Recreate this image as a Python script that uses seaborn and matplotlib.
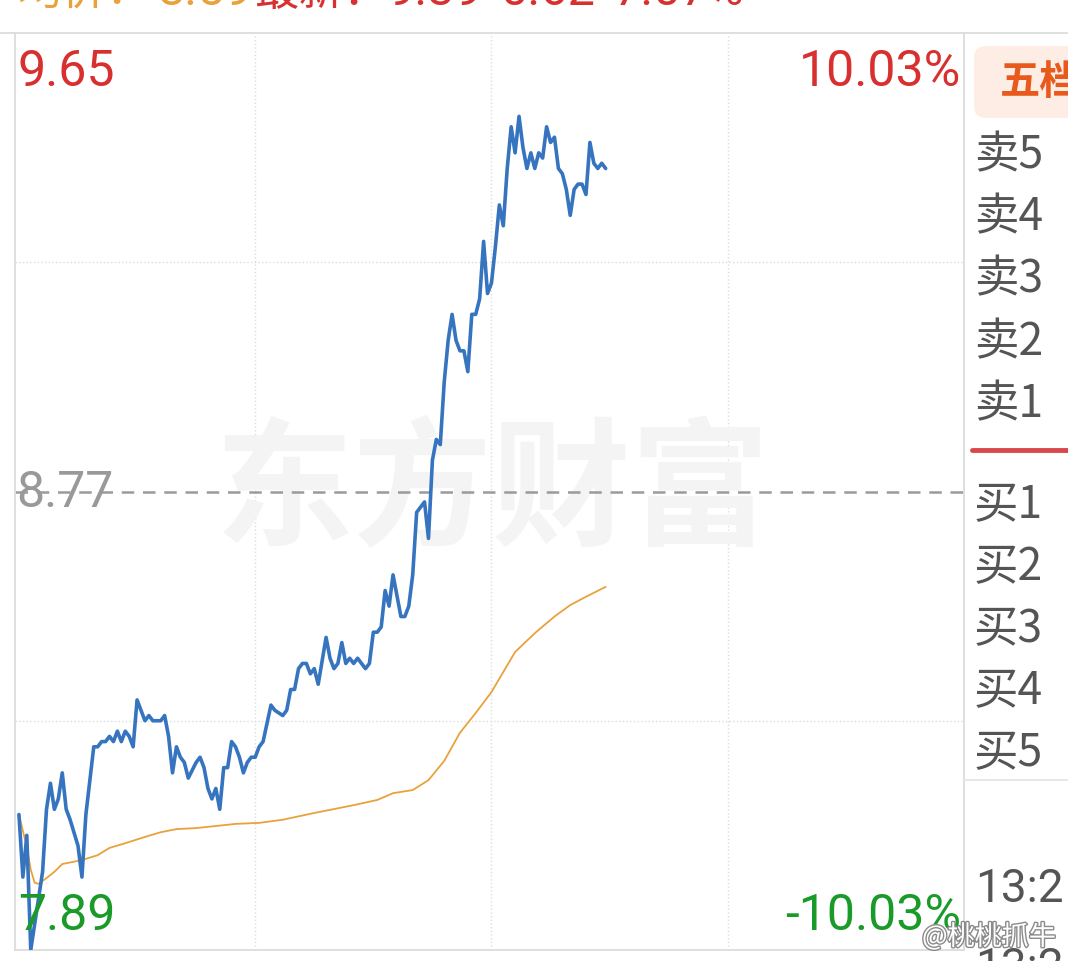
import matplotlib
matplotlib.use("Agg")
import matplotlib.pyplot as plt
import matplotlib.patheffects as pe
from matplotlib.patches import FancyBboxPatch
import seaborn as sns
import pandas as pd

W, H = 1068, 961

# intraday minutes since 9:30 and last price
PRICE_MIN = [0, 1, 2, 3, 6, 7, 8, 9, 10, 11, 12, 13, 15, 16, 17, 19, 20, 21, 22, 23,
             24, 25, 26, 27, 28, 29, 30, 31, 32, 33, 34, 35, 36, 37, 38, 39, 40, 41, 42, 43,
             45, 46, 47, 48, 49, 50, 51, 52, 53, 54, 55, 56, 57, 58, 59, 60, 61, 62, 64, 65,
             67, 68, 69, 70, 71, 72, 73, 74, 75, 76, 78, 79, 80, 81, 82, 83, 84, 85, 86, 87,
             88, 89, 90, 91, 92, 93, 94, 95, 96, 97, 98, 99, 100, 101, 102, 103, 104, 105, 106, 107,
             108, 109, 110, 111, 112, 113, 114, 115, 116, 117, 118, 119, 120, 121, 122, 123, 124, 125, 126, 127,
             128, 129, 130, 131, 132, 133, 134, 135, 136, 137, 138, 139, 140, 141, 142, 143, 144, 145, 146, 147,
             148, 149]
PRICE = [8.15, 8.03, 8.11, 7.89, 8.04, 8.16, 8.21, 8.16, 8.18, 8.23, 8.16, 8.14, 8.09, 8.03, 8.15, 8.28, 8.28, 8.29, 8.29, 8.30,
         8.29, 8.31, 8.29, 8.31, 8.30, 8.28, 8.37, 8.35, 8.33, 8.34, 8.33, 8.33, 8.33, 8.34, 8.30, 8.23, 8.28, 8.26, 8.25, 8.22,
         8.25, 8.26, 8.24, 8.20, 8.18, 8.20, 8.16, 8.24, 8.24, 8.29, 8.28, 8.26, 8.23, 8.25, 8.26, 8.26, 8.28, 8.29, 8.36, 8.35,
         8.34, 8.35, 8.39, 8.39, 8.43, 8.44, 8.44, 8.42, 8.43, 8.40, 8.49, 8.45, 8.43, 8.44, 8.48, 8.44, 8.45, 8.44, 8.45, 8.44,
         8.43, 8.44, 8.50, 8.50, 8.51, 8.58, 8.55, 8.61, 8.57, 8.53, 8.53, 8.55, 8.61, 8.73, 8.74, 8.75, 8.68, 8.83, 8.87, 8.86,
         8.98, 9.06, 9.11, 9.06, 9.04, 9.04, 9.00, 9.11, 9.11, 9.14, 9.25, 9.15, 9.17, 9.24, 9.32, 9.28, 9.39, 9.47, 9.42, 9.49,
         9.43, 9.39, 9.42, 9.39, 9.42, 9.41, 9.47, 9.44, 9.45, 9.39, 9.38, 9.35, 9.30, 9.35, 9.36, 9.36, 9.34, 9.44, 9.40, 9.39,
         9.40, 9.39]

# average price line
AVG_MIN = [0, 2, 3, 4, 5, 7, 9, 11, 15, 17, 20, 23, 27, 32, 36, 40, 45, 50, 55, 61,
           67, 75, 85, 91, 95, 100, 104, 108, 112, 116, 120, 126, 131, 136, 140, 144, 149]
AVG = [8.150, 8.088, 8.044, 8.019, 8.017, 8.028, 8.040, 8.055, 8.061, 8.065, 8.072, 8.086, 8.095, 8.107, 8.116, 8.122,
       8.124, 8.128, 8.132, 8.134, 8.140, 8.153, 8.168, 8.178, 8.191, 8.197, 8.216, 8.253, 8.307, 8.345, 8.385, 8.462,
       8.498, 8.530, 8.552, 8.568, 8.587]

PREV_CLOSE = 8.77
HIGH = 9.65
LOW = 7.89
SELL = ["卖5", "卖4", "卖3", "卖2", "卖1"]
BUY = ["买1", "买2", "买3", "买4", "买5"]

RED = "#d8302f"
GREEN = "#1a9a28"
GRAY = "#999999"
BLUE = "#3674c0"
ORANGE = "#e9a23b"
TEXT = "#555555"

NUM = ["Roboto", "Noto Sans CJK SC"]
CJK = ["Noto Sans CJK SC", "DejaVu Sans"]


def fx(x):
    return x / W


def fy(y):
    return 1 - y / H


sns.set_theme(style="white")
plt.rcParams["font.family"] = CJK

fig = plt.figure(figsize=(W / 100, H / 100), dpi=100)
ax = fig.add_axes([fx(15), fy(950), fx(964) - fx(15), fy(33) - fy(950)])

price = pd.DataFrame({"minute": PRICE_MIN, "price": PRICE})
avg = pd.DataFrame({"minute": AVG_MIN, "price": AVG})

sns.lineplot(data=avg, x="minute", y="price", ax=ax, color=ORANGE, linewidth=1.3, zorder=3)
sns.lineplot(data=price, x="minute", y="price", ax=ax, color=BLUE, linewidth=2.6, zorder=4)

ax.set_xlim(-1.0, 240)
ax.set_ylim(LOW, HIGH)
half = (HIGH - PREV_CLOSE) / 2
ax.set_xticks([60, 120, 180])
ax.set_yticks([PREV_CLOSE - half, PREV_CLOSE + half])
ax.grid(True, linestyle=":", color="#dcdcdc", linewidth=1.0)
ax.tick_params(length=0, labelbottom=False, labelleft=False)
ax.set_xlabel("")
ax.set_ylabel("")
ax.axhline(PREV_CLOSE, color="#9a9a9a", linestyle=(0, (5, 3.5)), linewidth=1.8, zorder=2)
for side in ["left", "right", "bottom"]:
    ax.spines[side].set_color("#dcdcdc")
    ax.spines[side].set_linewidth(1.3)
ax.spines["top"].set_visible(False)

# watermark
ax.text(0.503, 0.497, "东方财富", transform=ax.transAxes, ha="center", va="center",
        fontsize=100, fontweight="bold", color="#f4f4f4", family=CJK, zorder=1)

# price labels
fig.text(fx(18), fy(72), f"{HIGH:.2f}", color=RED, fontsize=36, family=NUM, va="center")
fig.text(fx(961), fy(72), f"{(HIGH - PREV_CLOSE) / PREV_CLOSE * 100:.2f}%", color=RED,
         fontsize=36, family=NUM, va="center", ha="right")
fig.text(fx(16), fy(493), f"{PREV_CLOSE:.2f}", color=GRAY, fontsize=36, family=NUM, va="center")
fig.text(fx(18), fy(916), f"{LOW:.2f}", color=GREEN, fontsize=36, family=NUM, va="center")
fig.text(fx(961), fy(916), f"-{(PREV_CLOSE - LOW) / PREV_CLOSE * 100:.2f}%", color=GREEN,
         fontsize=36, family=NUM, va="center", ha="right")

# header (cut off at the top)
fig.text(fx(17), fy(-8), "均价：", color=ORANGE, fontsize=32, family=CJK, va="center")
fig.text(fx(157), fy(-8), f"{AVG[-1]:.2f}", color=ORANGE, fontsize=35, family=NUM, va="center")
fig.text(fx(255), fy(-8), "最新：", color=RED, fontsize=32, family=CJK, va="center")
last = PRICE[-1]
fig.text(fx(388), fy(-8), f"{last:.2f}", color=RED, fontsize=35, family=NUM, va="center")
fig.text(fx(500), fy(-8), f"{last - PREV_CLOSE:.2f}", color=RED, fontsize=35, family=NUM, va="center")
fig.text(fx(613), fy(-8), f"{(last - PREV_CLOSE) / PREV_CLOSE * 100:.2f}%", color=RED,
         fontsize=35, family=NUM, va="center")

# frame lines
fig.add_artist(plt.Line2D([0, 1], [fy(33), fy(33)], color="#dcdcdc", linewidth=1.3))
fig.add_artist(plt.Line2D([fx(964), 1], [fy(780), fy(780)], color="#e3e3e3", linewidth=1.2))
fig.add_artist(plt.Line2D([fx(972), 1], [fy(450), fy(450)], color="#d9474a", linewidth=3.5))

# right panel
fig.add_artist(FancyBboxPatch((fx(974), fy(118)), fx(120), fy(46) - fy(118),
                              boxstyle="round,pad=0,rounding_size=0.012",
                              facecolor="#fdede4", edgecolor="none"))
fig.text(fx(1000), fy(82), "五档", color="#e8591c", fontsize=29, fontweight="bold",
         family=CJK, va="center")
for i, lab in enumerate(SELL):
    fig.text(fx(974), fy(155 + i * 62.3), lab, color=TEXT, fontsize=32, family=CJK, va="center")
for i, lab in enumerate(BUY):
    fig.text(fx(974), fy(505 + i * 62), lab, color=TEXT, fontsize=32, family=CJK, va="center")
fig.text(fx(975), fy(889), "13:2", color=TEXT, fontsize=33, family=NUM, va="center")
fig.text(fx(975), fy(968), "13:2", color=TEXT, fontsize=33, family=NUM, va="center")

fig.text(fx(922), fy(937), "@桃桃抓牛", color="white", fontsize=19.5, family=CJK, va="center",
         path_effects=[pe.withStroke(linewidth=2, foreground="#8a8a8a")])

fig.savefig("out.png", dpi=100, facecolor="white")
